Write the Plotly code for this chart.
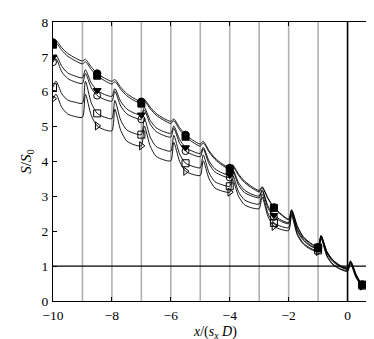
import plotly.graph_objects as go

# sample positions along x/(s_x D)
x_pos = [-10, -9.9, -9.7, -9.5, -9.25,
         -9, -8.9, -8.7, -8.5, -8.25,
         -8, -7.9, -7.7, -7.5, -7.25,
         -7, -6.9, -6.7, -6.5, -6.25,
         -6, -5.9, -5.7, -5.5, -5.25,
         -5, -4.9, -4.7, -4.5, -4.25,
         -4, -3.9, -3.7, -3.5, -3.25,
         -3, -2.9, -2.7, -2.5, -2.25,
         -2, -1.9, -1.7, -1.5, -1.25,
         -1, -0.9, -0.7, -0.5, -0.25,
         0, 0.1, 0.3, 0.5, 0.75,
         1.0]

s_filled_circle = [7.42, 7.47, 7.26, 7.10, 6.97,
                   6.88, 6.93, 6.71, 6.53, 6.39,
                   6.30, 6.35, 6.13, 5.95, 5.81,
                   5.72, 5.78, 5.56, 5.38, 5.24,
                   5.15, 5.22, 4.97, 4.77, 4.61,
                   4.50, 4.58, 4.31, 4.10, 3.93,
                   3.82, 3.90, 3.64, 3.44, 3.28,
                   3.17, 3.28, 2.95, 2.69, 2.49,
                   2.35, 2.62, 2.14, 1.84, 1.66,
                   1.55, 1.88, 1.42, 1.18, 1.02,
                   0.95, 1.15, 0.75, 0.48, 0.38,
                   0.36]
s_filled_square = [7.35, 7.40, 7.19, 7.02, 6.89,
                   6.80, 6.86, 6.64, 6.46, 6.32,
                   6.22, 6.29, 6.07, 5.89, 5.75,
                   5.66, 5.73, 5.51, 5.33, 5.19,
                   5.09, 5.17, 4.91, 4.71, 4.55,
                   4.44, 4.53, 4.27, 4.06, 3.89,
                   3.78, 3.86, 3.60, 3.40, 3.24,
                   3.13, 3.25, 2.93, 2.67, 2.47,
                   2.33, 2.60, 2.12, 1.82, 1.64,
                   1.53, 1.87, 1.41, 1.17, 1.01,
                   0.94, 1.14, 0.73, 0.47, 0.38,
                   0.36]
s_filled_tri = [7.00, 7.05, 6.73, 6.54, 6.45,
                6.40, 6.63, 6.25, 6.04, 5.92,
                5.87, 6.09, 5.72, 5.51, 5.39,
                5.34, 5.55, 5.18, 4.97, 4.86,
                4.81, 5.02, 4.63, 4.40, 4.29,
                4.23, 4.41, 4.01, 3.79, 3.67,
                3.61, 3.77, 3.39, 3.18, 3.06,
                3.01, 3.19, 2.72, 2.46, 2.32,
                2.25, 2.57, 2.04, 1.78, 1.59,
                1.51, 1.86, 1.39, 1.16, 1.00,
                0.92, 1.12, 0.72, 0.46, 0.37,
                0.35]
s_open_circle = [6.85, 6.95, 6.57, 6.38, 6.28,
                 6.24, 6.53, 6.11, 5.89, 5.78,
                 5.73, 6.01, 5.59, 5.37, 5.26,
                 5.21, 5.48, 5.07, 4.86, 4.75,
                 4.70, 4.95, 4.52, 4.30, 4.19,
                 4.14, 4.36, 3.93, 3.70, 3.59,
                 3.54, 3.73, 3.32, 3.11, 3.01,
                 2.96, 3.16, 2.66, 2.41, 2.28,
                 2.22, 2.55, 2.00, 1.74, 1.57,
                 1.50, 1.85, 1.36, 1.13, 0.98,
                 0.91, 1.11, 0.71, 0.46, 0.37,
                 0.35]
s_open_square = [6.13, 6.31, 5.94, 5.76, 5.70,
                 5.67, 6.30, 5.68, 5.38, 5.27,
                 5.23, 5.75, 5.18, 4.91, 4.81,
                 4.77, 5.25, 4.70, 4.43, 4.34,
                 4.30, 4.75, 4.21, 3.95, 3.86,
                 3.82, 4.19, 3.67, 3.42, 3.33,
                 3.29, 3.61, 3.13, 2.90, 2.81,
                 2.78, 3.07, 2.51, 2.24, 2.14,
                 2.10, 2.50, 1.92, 1.66, 1.51,
                 1.45, 1.82, 1.30, 1.06, 0.93,
                 0.87, 1.09, 0.67, 0.44, 0.35,
                 0.34]
s_open_tri = [5.80, 5.93, 5.55, 5.36, 5.29,
              5.27, 5.93, 5.32, 5.02, 4.91,
              4.88, 5.50, 4.89, 4.59, 4.48,
              4.45, 5.02, 4.44, 4.15, 4.05,
              4.02, 4.55, 4.00, 3.72, 3.63,
              3.60, 4.02, 3.50, 3.24, 3.15,
              3.12, 3.48, 3.00, 2.76, 2.67,
              2.65, 2.98, 2.42, 2.14, 2.05,
              2.02, 2.45, 1.88, 1.63, 1.48,
              1.42, 1.80, 1.28, 1.04, 0.91,
              0.85, 1.06, 0.65, 0.43, 0.34,
              0.33]

# marker locations (every 1.5 units)
marker_x = [-10, -8.5, -7, -5.5, -4, -2.5, -1, 0.5]

row_lines = [-9, -8, -7, -6, -5, -4, -3, -2, -1]
last_row = [0]
ref_level = [1]

series = [
    (s_filled_circle, "circle"),
    (s_filled_square, "square"),
    (s_filled_tri, "triangle-down"),
    (s_open_circle, "circle-open"),
    (s_open_square, "square-open"),
    (s_open_tri, "triangle-right-open"),
]

fig = go.Figure()

for xv in row_lines:
    fig.add_vline(x=xv, line=dict(color="#b0b0b0", width=1.6), layer="below")
for xv in last_row:
    fig.add_vline(x=xv, line=dict(color="black", width=1.6))
for yv in ref_level:
    fig.add_hline(y=yv, line=dict(color="black", width=1.2))

for ys, sym in series:
    fig.add_trace(go.Scatter(x=x_pos, y=ys, mode="lines",
                             line=dict(color="black", width=0.9, shape="spline", smoothing=0.7),
                             showlegend=False, hoverinfo="skip"))
    mx = [x_pos[x_pos.index(v)] for v in marker_x]
    my = [ys[x_pos.index(v)] for v in marker_x]
    fig.add_trace(go.Scatter(x=mx, y=my, mode="markers",
                             marker=dict(symbol=sym, size=7, color="black",
                                         line=dict(color="black", width=1)),
                             showlegend=False, hoverinfo="skip"))

serif = "Liberation Serif, Times New Roman, serif"
tickfont = dict(family=serif, size=13.5, color="black")
axis_common = dict(showline=True, linecolor="black", linewidth=1, mirror="ticks",
                   ticks="inside", ticklen=4, tickcolor="black", showgrid=False,
                   zeroline=False, tickfont=tickfont)

fig.update_layout(
    width=374, height=339,
    margin=dict(l=45, r=5, t=14, b=46),
    paper_bgcolor="white", plot_bgcolor="white",
    font=dict(family=serif, size=14, color="black"),
    xaxis=dict(range=[-10, 1], tickvals=[-10, -8, -6, -4, -2, 0],
               ticktext=["\u221210", "\u22128", "\u22126", "\u22124", "\u22122", "0"],
               ticklabelstandoff=2,
               **axis_common),
    yaxis=dict(range=[0, 8], tickvals=[0, 1, 2, 3, 4, 5, 6, 7, 8],
               ticklabelstandoff=1,
               title=dict(text="<i>S</i>/<i>S</i><sub>0</sub>",
                          font=dict(family=serif, size=15), standoff=6),
               **axis_common),
    annotations=[dict(text="<i>x</i>/(<i>s</i><sub><i>x</i></sub><i> D</i>)",
                      xref="paper", yref="paper", x=0.5, y=-0.075,
                      xanchor="center", yanchor="top", showarrow=False,
                      font=dict(family=serif, size=14, color="black"))],
)

fig.write_html("out.html")
